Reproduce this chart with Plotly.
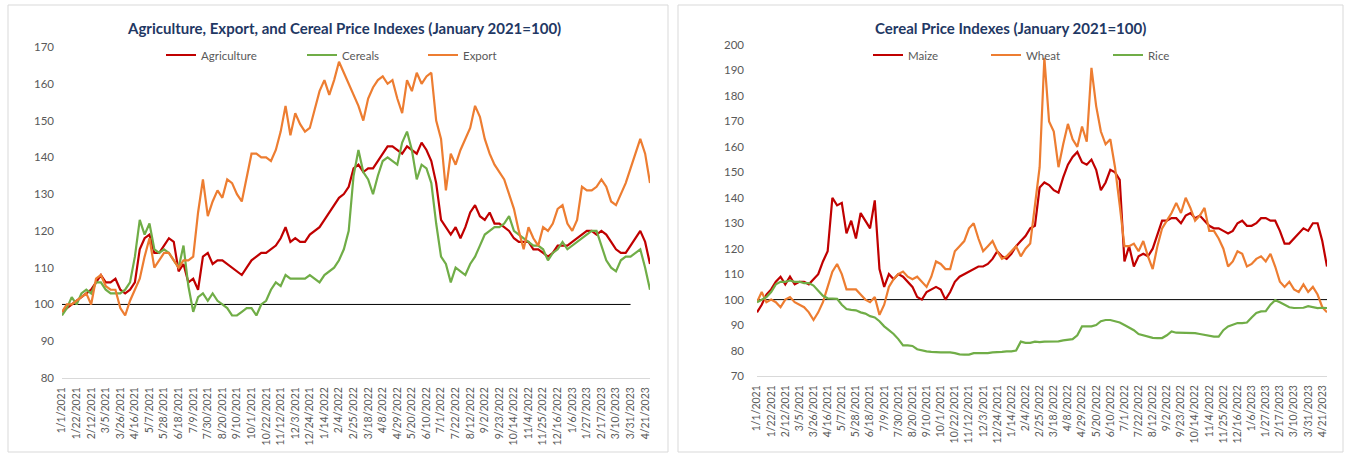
import pandas as pd
import plotly.graph_objects as go

# ---------------- data ----------------
start_date = "2021-01-01"
n_weeks = 122

tick_labels = ["1/1/2021", "1/22/2021", "2/12/2021", "3/5/2021", "3/26/2021", "4/16/2021",
               "5/7/2021", "5/28/2021", "6/18/2021", "7/9/2021", "7/30/2021", "8/20/2021",
               "9/10/2021", "10/1/2021", "10/22/2021", "11/12/2021", "12/3/2021", "12/24/2021",
               "1/14/2022", "2/4/2022", "2/25/2022", "3/18/2022", "4/8/2022", "4/29/2022",
               "5/20/2022", "6/10/2022", "7/1/2022", "7/22/2022", "8/12/2022", "9/2/2022",
               "9/23/2022", "10/14/2022", "11/4/2022", "11/25/2022", "12/16/2022", "1/6/2023",
               "1/27/2023", "2/17/2023", "3/10/2023", "3/31/2023", "4/21/2023"]

agriculture = [98, 99, 100, 101, 102, 103, 104, 106, 108, 106,
               106, 107, 104, 103, 104, 106, 115, 118, 119, 114,
               114, 116, 118, 117, 109, 111, 106, 107, 104, 113,
               114, 111, 112, 112, 111, 110, 109, 108, 110, 112,
               113, 114, 114, 115, 116, 118, 121, 117, 118, 117,
               117, 119, 120, 121, 123, 125, 127, 129, 130, 132,
               137, 138, 136, 137, 137, 139, 141, 143, 143, 142,
               141, 143, 142, 141, 144, 142, 139, 133, 123, 121,
               119, 121, 118, 121, 125, 127, 124, 123, 125, 122,
               122, 121, 120, 118, 117, 117, 117, 115, 115, 114,
               113, 114, 116, 116, 116, 117, 118, 119, 120, 120,
               119, 120, 119, 117, 115, 114, 114, 116, 118, 120,
               117, 111]

cereals = [97, 99, 102, 100, 103, 104, 103, 106, 106, 104,
           103, 103, 103, 104, 106, 113, 123, 119, 122, 115,
           114, 115, 114, 112, 110, 116, 105, 98, 102, 103,
           101, 103, 101, 100, 99, 97, 97, 98, 99, 99,
           97, 100, 101, 104, 106, 105, 108, 107, 107, 107,
           107, 108, 107, 106, 108, 109, 110, 112, 115, 120,
           135, 142, 136, 134, 130, 135, 139, 140, 139, 138,
           144, 147, 142, 134, 138, 137, 133, 122, 113, 111,
           106, 110, 109, 108, 111, 113, 116, 119, 120, 121,
           121, 122, 124, 120, 119, 118, 117, 116, 116, 115,
           112, 114, 115, 117, 115, 116, 117, 118, 119, 120,
           120, 116, 112, 110, 109, 112, 113, 113, 114, 115,
           110, 104]

export = [98, 100, 100, 101, 102, 103, 100, 107, 108, 105,
          104, 104, 99, 97, 101, 104, 107, 113, 118, 110,
          112, 114, 114, 112, 110, 112, 112, 113, 125, 134,
          124, 128, 131, 129, 134, 133, 130, 128, 135, 141,
          141, 140, 140, 139, 142, 147, 154, 146, 152, 149,
          147, 148, 153, 158, 161, 157, 161, 166, 163, 160,
          157, 154, 150, 156, 159, 161, 162, 160, 161, 156,
          152, 161, 158, 163, 160, 162, 163, 150, 145, 131,
          141, 138, 142, 145, 148, 154, 151, 145, 141, 138,
          136, 134, 130, 126, 120, 115, 121, 118, 116, 121,
          120, 122, 126, 127, 122, 120, 123, 132, 131, 131,
          132, 134, 132, 128, 127, 130, 133, 137, 141, 145,
          141, 133]

maize = [95, 98, 102, 104, 107, 109, 106, 109, 106, 107,
         107, 106, 108, 110, 115, 119, 140, 137, 138, 126,
         131, 124, 134, 131, 128, 139, 112, 105, 110, 108,
         110, 109, 107, 105, 101, 100, 103, 104, 105, 104,
         100, 103, 107, 109, 110, 111, 112, 113, 113, 114,
         116, 119, 117, 116, 118, 121, 123, 125, 128, 129,
         144, 146, 145, 143, 142, 148, 153, 156, 158, 154,
         153, 155, 151, 143, 146, 151, 150, 147, 115, 121,
         113, 117, 118, 117, 120, 126, 131, 131, 132, 132,
         130, 133, 134, 132, 133, 131, 129, 128, 128, 127,
         126, 127, 130, 131, 129, 129, 130, 132, 132, 131,
         131, 127, 122, 122, 124, 126, 128, 127, 130, 130,
         123, 113]

wheat = [99, 103, 99, 100, 99, 97, 100, 101, 99, 98,
         97, 95, 92, 95, 99, 105, 111, 114, 110, 104,
         104, 104, 102, 100, 99, 101, 94, 98, 105, 108,
         110, 111, 109, 108, 109, 107, 105, 109, 115, 114,
         112, 112, 119, 121, 123, 128, 130, 124, 119, 121,
         123, 119, 116, 117, 119, 121, 117, 120, 122, 137,
         152, 195, 170, 166, 152, 161, 169, 163, 160, 168,
         162, 191, 176, 166, 161, 163, 152, 137, 121, 121,
         122, 119, 123, 117, 112, 121, 128, 131, 134, 138,
         134, 140, 136, 131, 133, 136, 127, 127, 124, 120,
         113, 115, 119, 118, 113, 114, 116, 117, 115, 118,
         113, 107, 105, 107, 104, 103, 106, 103, 105, 102,
         97, 95]

rice = [99, 100, 101, 103, 106, 107, 107, 107.5, 107, 107,
        106.5, 106.5, 105.5, 103.5, 101.5, 100.5, 100.3, 100.3, 98, 96.3,
        96, 95.8, 95, 94.5, 93.5, 93, 91.5, 89.5, 88, 86.5,
        84.5, 82, 82, 81.8, 80.5, 80, 79.7, 79.5, 79.3, 79.3,
        79.3, 79.3, 79, 78.5, 78.4, 78.4, 79, 79, 79, 79,
        79.3, 79.3, 79.5, 79.7, 79.7, 80, 83.5, 83, 83, 83.5,
        83.3, 83.5, 83.5, 83.7, 83.6, 84, 84.3, 84.5, 86, 89.5,
        89.5, 89.5, 90, 91.5, 92, 92, 91.5, 91, 90, 89,
        88, 86.5, 86, 85.5, 85, 84.9, 84.9, 86, 87.5, 87,
        87, 87, 87, 86.8, 86.5, 86.2, 86, 85.5, 85.5, 88,
        89.5, 90, 90.8, 90.8, 91, 93, 94.8, 95.4, 95.5, 98,
        99.8, 99, 98, 97, 96.7, 96.7, 96.8, 97.4, 97, 96.7,
        96.8, 96.7]

baseline_left_dates = ["2021-01-01", "2023-03-31"]
baseline_right_dates = ["2021-01-01", "2023-04-28"]
baseline_value = [100, 100]

# ---------------- figure ----------------
W, H = 1351, 456
dates = pd.date_range(start_date, periods=n_weeks, freq="7D")
tick_dates = pd.to_datetime(tick_labels, format="%m/%d/%Y")

RED, GREEN, ORANGE = "#C00000", "#70AD47", "#ED7D31"
FONT = "Lato"
TXT = "#595959"

def px(x):
    return x / W

def py(y):
    return 1 - y / H

fig = go.Figure()

fig.add_trace(go.Scatter(x=baseline_left_dates, y=baseline_value, mode="lines",
                         line=dict(color="black", width=1), showlegend=False,
                         hoverinfo="skip", xaxis="x", yaxis="y"))
fig.add_trace(go.Scatter(x=baseline_right_dates, y=baseline_value, mode="lines",
                         line=dict(color="black", width=1), showlegend=False,
                         hoverinfo="skip", xaxis="x2", yaxis="y2"))

left_series = [("Agriculture", agriculture, RED, "legend"),
               ("Cereals", cereals, GREEN, "legend2"),
               ("Export", export, ORANGE, "legend3")]
right_series = [("Maize", maize, RED, "legend4"),
                ("Wheat", wheat, ORANGE, "legend5"),
                ("Rice", rice, GREEN, "legend6")]

for name, vals, col, lg in left_series:
    fig.add_trace(go.Scatter(x=dates, y=vals, name=name, mode="lines",
                             line=dict(color=col, width=2.2), xaxis="x", yaxis="y", legend=lg))
for name, vals, col, lg in right_series:
    fig.add_trace(go.Scatter(x=dates, y=vals, name=name, mode="lines",
                             line=dict(color=col, width=2.2), xaxis="x2", yaxis="y2", legend=lg))

xcommon = dict(type="date", range=[dates[0], dates[-1]], tickmode="array",
               tickvals=tick_dates, ticktext=tick_labels, tickangle=-90,
               tickfont=dict(family=FONT, size=10.5, color=TXT), showgrid=False,
               zeroline=False, showline=True, linecolor="#D9D9D9", linewidth=1,
               ticks="", ticklabelstandoff=4, automargin=False)
ycommon = dict(showgrid=False, zeroline=False, showline=False, ticks="", dtick=10,
               tickfont=dict(family=FONT, size=11.5, color=TXT), automargin=False)

legend_common = dict(orientation="h", xanchor="left", yanchor="middle",
                     font=dict(family=FONT, size=11.5, color=TXT),
                     bgcolor="rgba(0,0,0,0)", borderwidth=0, itemwidth=30)

fig.update_layout(
    width=W, height=H,
    margin=dict(l=0, r=0, t=0, b=0),
    paper_bgcolor="white", plot_bgcolor="white",
    xaxis=dict(domain=[px(62), px(650)], anchor="y", **xcommon),
    yaxis=dict(domain=[py(378), py(47)], anchor="x", range=[80, 170],
               ticklabelstandoff=7, **ycommon),
    xaxis2=dict(domain=[px(757), px(1327)], anchor="y2", **xcommon),
    yaxis2=dict(domain=[py(376), py(45)], anchor="x2", range=[70, 200],
                ticklabelstandoff=12, **ycommon),
    legend=dict(x=px(161), y=py(55), **legend_common),
    legend2=dict(x=px(302), y=py(55), **legend_common),
    legend3=dict(x=px(423), y=py(55), **legend_common),
    legend4=dict(x=px(868), y=py(55), **legend_common),
    legend5=dict(x=px(986), y=py(55), **legend_common),
    legend6=dict(x=px(1108), y=py(55), **legend_common),
    showlegend=True,
    shapes=[
        dict(type="rect", xref="paper", yref="paper", x0=px(8), x1=px(668),
             y0=py(452), y1=py(5), line=dict(color="#D9D9D9", width=1), layer="below"),
        dict(type="rect", xref="paper", yref="paper", x0=px(678), x1=px(1343),
             y0=py(452), y1=py(5), line=dict(color="#D9D9D9", width=1), layer="below"),
    ],
    annotations=[
        dict(text="<b>Agriculture, Export, and Cereal Price Indexes (January 2021=100)</b>",
             x=px(344), y=py(28), xref="paper", yref="paper", showarrow=False,
             xanchor="center", yanchor="middle",
             font=dict(family=FONT, size=15, color="#1F3864")),
        dict(text="<b>Cereal Price Indexes (January 2021=100)</b>",
             x=px(1010), y=py(28), xref="paper", yref="paper", showarrow=False,
             xanchor="center", yanchor="middle",
             font=dict(family=FONT, size=15, color="#1F3864")),
    ],
)

fig.write_html("out.html", config={"displayModeBar": False},
               post_script="document.body.style.margin='0px';")
